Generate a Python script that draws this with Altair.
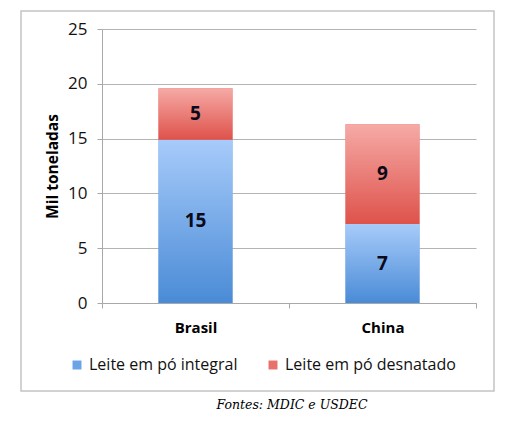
import altair as alt
import pandas as pd

countries = ["Brasil", "China"]
milk_types = ["Leite em pó integral", "Leite em pó desnatado"]
integral = [14.9, 7.2]
desnatado = [4.7, 9.1]

BLUE_TOP, BLUE_BOTTOM = "#a7cbfa", "#4a8bd6"
RED_TOP, RED_BOTTOM = "#f6aaa6", "#de524b"
FONT = "Open Sans"

rows = []
for country, a, b in zip(countries, integral, desnatado):
    rows.append({"country": country, "type": milk_types[0], "start": 0, "end": a})
    rows.append({"country": country, "type": milk_types[1], "start": a, "end": a + b})
df = pd.DataFrame(rows)
df["mid"] = (df["start"] + df["end"]) / 2
df["label"] = (df["end"] - df["start"]).round().astype(int).astype(str)


def gradient(top, bottom):
    return alt.LinearGradient(
        gradient="linear",
        stops=[alt.GradientStop(color=top, offset=0), alt.GradientStop(color=bottom, offset=1)],
        x1=0, x2=0, y1=0, y2=1,
    )


x = alt.X(
    "country:N",
    sort=countries,
    title=None,
    scale=alt.Scale(paddingInner=0, paddingOuter=0),
    axis=alt.Axis(
        labelAngle=0, labelFontSize=15, labelFontWeight="bold", labelColor="#000",
        labelFont=FONT, labelPadding=12, tickBand="extent", tickSize=5,
        tickColor="#a8a8a8", domainColor="#a8a8a8", grid=False,
    ),
)
y = alt.Y(
    "start:Q",
    title="Mil toneladas",
    scale=alt.Scale(domain=[0, 25], nice=False),
    axis=alt.Axis(
        values=[0, 5, 10, 15, 20, 25], labelFontSize=17, labelColor="#111", labelFont=FONT,
        labelPadding=10, tickSize=5, tickColor="#a8a8a8", domainColor="#a8a8a8",
        gridColor="#b4b4b4", titleFont=FONT, titleFontSize=15.5, titleFontWeight="bold",
        titleColor="#000", titlePadding=7,
    ),
)

base = alt.Chart(df)

legend_bars = base.mark_bar(size=74).encode(
    x=x,
    y=y,
    y2="end:Q",
    color=alt.Color(
        "type:N",
        scale=alt.Scale(domain=milk_types, range=["#6aa3e6", "#e8716b"]),
        legend=alt.Legend(
            title=None, orient="none", direction="horizontal", legendX=-33, legendY=328,
            symbolType="square", symbolSize=80, symbolStrokeWidth=0, labelFont=FONT,
            labelFontSize=16, labelColor="#111", columnPadding=27, labelOffset=4,
            labelLimit=300,
        ),
    ),
)

blue_bars = (
    base.transform_filter(alt.datum.type == milk_types[0])
    .mark_bar(size=74, fill=gradient(BLUE_TOP, BLUE_BOTTOM))
    .encode(x=x, y=y, y2="end:Q")
)
red_bars = (
    base.transform_filter(alt.datum.type == milk_types[1])
    .mark_bar(size=74, fill=gradient(RED_TOP, RED_BOTTOM))
    .encode(x=x, y=y, y2="end:Q")
)

labels = base.mark_text(font=FONT, fontSize=19, fontWeight="bold", color="#0a0a1a").encode(
    x=alt.X("country:N", sort=countries),
    y=alt.Y("mid:Q"),
    text="label:N",
)

frame = (
    alt.Chart(pd.DataFrame({"f": [0]}))
    .mark_rect(fill="transparent", stroke="#c4c4c4", strokeWidth=1.5)
    .encode(x=alt.value(-81), x2=alt.value(392), y=alt.value(-18), y2=alt.value(362))
)

chart = (
    alt.layer(frame, legend_bars, blue_bars, red_bars, labels)
    .properties(
        width=374,
        height=274,
        padding={"left": 12, "top": 2, "right": 5, "bottom": 5},
        title=alt.TitleParams(
            "Fontes: MDIC e USDEC", orient="bottom", anchor="middle", dx=3,
            font="DejaVu Serif", fontSize=12.5, fontStyle="italic", fontWeight="normal",
            color="#000", offset=7,
        ),
    )
    .configure_view(stroke=None)
)

chart.save("out.html", embed_options={"renderer": "svg", "actions": False})
